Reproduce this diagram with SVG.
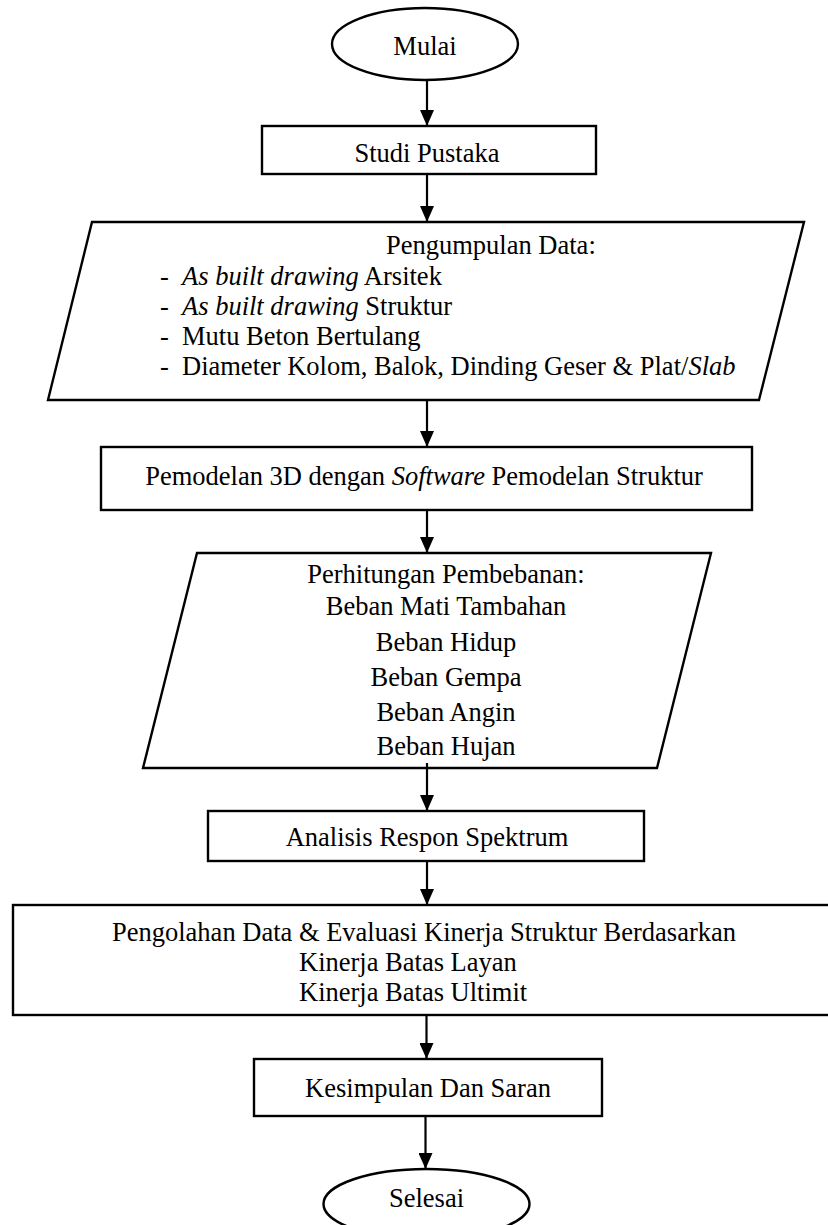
<svg xmlns="http://www.w3.org/2000/svg" width="828" height="1225" viewBox="0 0 828 1225">
<style>
.s{fill:#fff;stroke:#000;stroke-width:2.4}
.t{font-family:"Liberation Serif","Times New Roman",serif;font-size:26.5px;fill:#000}
.c{text-anchor:middle}
.i{font-style:italic}
.e{stroke:#000;stroke-width:2.2;fill:none}
</style>
<defs>
<marker id="ah" viewBox="0 0 16 14" refX="16" refY="7" markerWidth="16" markerHeight="14" markerUnits="userSpaceOnUse" orient="auto">
<path d="M0,0 L16,7 L0,14 z" fill="#000"/>
</marker>
</defs>
<rect width="828" height="1225" fill="#fff"/>
<g id="mulai">
<ellipse class="s" cx="425" cy="44" rx="93" ry="36"/>
<text class="t c" x="425" y="55">Mulai</text>
</g>
<g id="studi">
<rect class="s" x="262" y="126" width="334" height="48"/>
<text class="t c" x="427" y="162">Studi Pustaka</text>
</g>
<g id="pengumpulan">
<polygon class="s" points="92,222 804,222 759,400 48,400"/>
<text class="t" x="386" y="254">Pengumpulan Data:</text>
<text class="t" x="160" y="285">-</text><text class="t" x="182" y="285"><tspan class="i">As built drawing</tspan> Arsitek</text>
<text class="t" x="160" y="315">-</text><text class="t" x="182" y="315"><tspan class="i">As built drawing</tspan> Struktur</text>
<text class="t" x="160" y="345">-</text><text class="t" x="182" y="345">Mutu Beton Bertulang</text>
<text class="t" x="160" y="375">-</text><text class="t" x="182" y="375">Diameter Kolom, Balok, Dinding Geser &amp; Plat/<tspan class="i">Slab</tspan></text>
</g>
<g id="pemodelan">
<rect class="s" x="101" y="447" width="651" height="63"/>
<text class="t c" x="424" y="485">Pemodelan 3D dengan <tspan class="i">Software</tspan> Pemodelan Struktur</text>
</g>
<g id="perhitungan">
<polygon class="s" points="197,553 711,553 657,768 143,768"/>
<text class="t c" x="446" y="583">Perhitungan Pembebanan:</text>
<text class="t c" x="446" y="615">Beban Mati Tambahan</text>
<text class="t c" x="446" y="651">Beban Hidup</text>
<text class="t c" x="446" y="686">Beban Gempa</text>
<text class="t c" x="446" y="721">Beban Angin</text>
<text class="t c" x="446" y="755">Beban Hujan</text>
</g>
<g id="analisis">
<rect class="s" x="208" y="811" width="436" height="50"/>
<text class="t c" x="427" y="846">Analisis Respon Spektrum</text>
</g>
<g id="pengolahan">
<rect class="s" x="13" y="905" width="830" height="110"/>
<text class="t" x="112" y="941">Pengolahan Data &amp; Evaluasi Kinerja Struktur Berdasarkan</text>
<text class="t" x="299" y="971">Kinerja Batas Layan</text>
<text class="t" x="299" y="1001">Kinerja Batas Ultimit</text>
</g>
<g id="kesimpulan">
<rect class="s" x="254" y="1059" width="348" height="57"/>
<text class="t c" x="428" y="1097">Kesimpulan Dan Saran</text>
</g>
<g id="selesai">
<ellipse class="s" cx="426.5" cy="1204" rx="103" ry="35"/>
<text class="t c" x="426.5" y="1207">Selesai</text>
</g>
<g id="connectors">
<line class="e" x1="427" y1="80" x2="427" y2="126" marker-end="url(#ah)"/>
<line class="e" x1="427" y1="174" x2="427" y2="222" marker-end="url(#ah)"/>
<line class="e" x1="427" y1="400" x2="427" y2="447" marker-end="url(#ah)"/>
<line class="e" x1="427" y1="510" x2="427" y2="553" marker-end="url(#ah)"/>
<line class="e" x1="427" y1="763" x2="427" y2="811" marker-end="url(#ah)"/>
<line class="e" x1="427" y1="861" x2="427" y2="905" marker-end="url(#ah)"/>
<line class="e" x1="426.5" y1="1015" x2="426.5" y2="1059" marker-end="url(#ah)"/>
<line class="e" x1="425.5" y1="1116" x2="425.5" y2="1169" marker-end="url(#ah)"/>
</g>
</svg>
